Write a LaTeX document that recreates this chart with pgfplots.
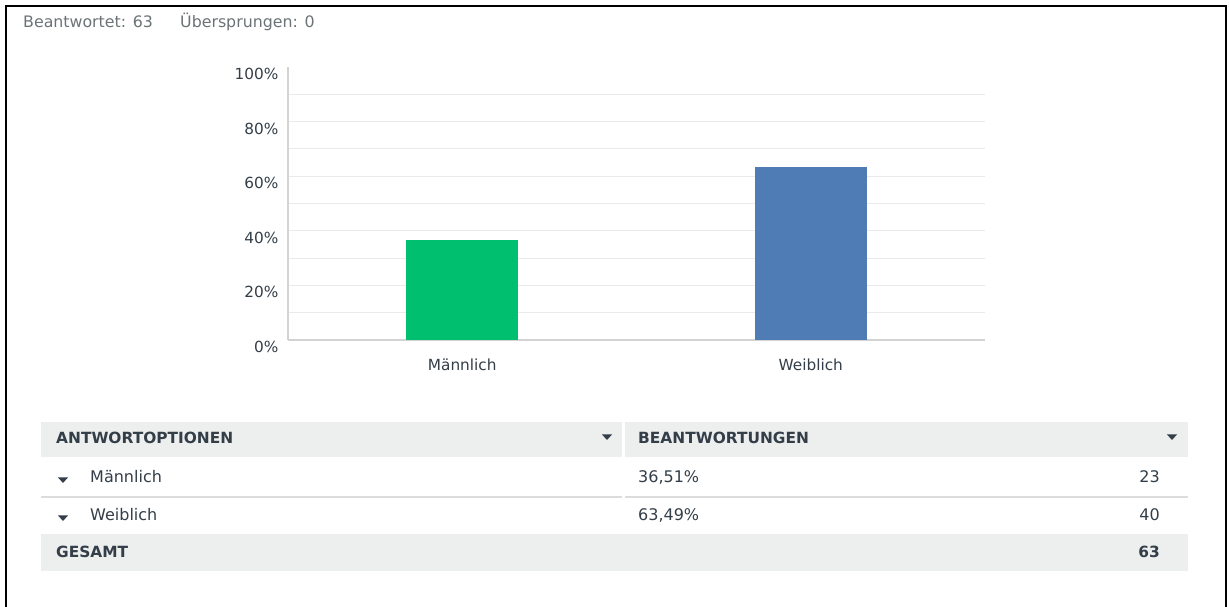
\documentclass[border=0pt]{standalone}
\usepackage{fontspec}
\setmainfont{DejaVu Sans}
\usepackage{pgfplots}
\pgfplotsset{compat=1.18}
\definecolor{mgreen}{HTML}{00BF6F}
\definecolor{mblue}{HTML}{507CB6}
\definecolor{txt}{HTML}{333E48}
\definecolor{hdr}{HTML}{6B7377}
\definecolor{band}{HTML}{EDEEEE}
\definecolor{gridc}{HTML}{EAEAEA}
\definecolor{axc}{HTML}{D3D3D3}
\definecolor{sepc}{HTML}{DCDCDC}
\newcommand\hf{\fontsize{15.8}{18}\selectfont}
\newcommand\kf{\fontsize{15.3}{18}\selectfont}
\newcommand\tf{\fontsize{16}{19}\selectfont}
\newcommand\bff{\fontsize{15.4}{18}\selectfont\bfseries}
\begin{document}
\begin{tikzpicture}
\begin{scope}[x=1pt,y=1pt]
\path[use as bounding box] (0,0) rectangle (1229,607);
\draw[line width=2.5pt] (6,0) -- (6,601) -- (1226,601) -- (1226,0);
\node[anchor=base west, inner sep=0, text=hdr, font=\hf] at (23,579) {Beantwortet: 63};
\node[anchor=base west, inner sep=0, text=hdr, font=\hf] at (180,579) {Übersprungen: 0};
\end{scope}

\begin{axis}[at={(288pt,267pt)}, anchor=south west,
  scale only axis, width=697pt, height=273pt,
  xmin=-0.5, xmax=1.5, ymin=0, ymax=100,
  axis lines*=left,
  axis line style={-, axc, line width=1.5pt},
  ytick={0,10,...,90},
  yticklabels={0\%,,20\%,,40\%,,60\%,,80\%,},
  extra y ticks={100}, extra y tick labels={100\%},
  extra y tick style={grid=none},
  ymajorgrids, grid style={gridc, line width=1pt},
  major tick length=0pt,
  yticklabel style={font=\kf, text=txt, anchor=east, xshift=-6pt, yshift=-7pt},
  xtick={0,1}, xticklabels={Männlich,Weiblich},
  xticklabel style={font=\kf, text=txt, yshift=-15pt},
  clip=false]
\addplot[ybar, bar width=112pt, fill=mgreen, draw=none] coordinates {(0,36.51)};
\addplot[ybar, bar width=112pt, fill=mblue, draw=none] coordinates {(1,63.49)};
\end{axis}

\begin{scope}[x=1pt,y=1pt]
\fill[band] (41,185) rectangle (1188,149.5);
\fill[white] (622,185) rectangle (624.5,149.5);
\draw[sepc, line width=1.5pt] (41,110) -- (1188,110);
\draw[white, line width=1.6pt] (622,110) -- (624.5,110);
\fill[band] (41,73) rectangle (1188,36);
\foreach \px/\py in {607/170, 1172/170, 63/127, 63/89}
  \fill[txt] (\px-5,\py+2.5) -- (\px+5,\py+2.5) -- (\px,\py-3) -- cycle;
\node[anchor=base west, inner sep=0, text=txt, font=\bff] at (56,163) {ANTWORTOPTIONEN};
\node[anchor=base west, inner sep=0, text=txt, font=\bff] at (638,163) {BEANTWORTUNGEN};
\node[anchor=base west, inner sep=0, text=txt, font=\tf] at (90,124) {Männlich};
\node[anchor=base west, inner sep=0, text=txt, font=\tf] at (90,86) {Weiblich};
\node[anchor=base west, inner sep=0, text=txt, font=\tf] at (638,124) {36,51\%};
\node[anchor=base west, inner sep=0, text=txt, font=\tf] at (638,86) {63,49\%};
\node[anchor=base east, inner sep=0, text=txt, font=\tf] at (1160,124) {23};
\node[anchor=base east, inner sep=0, text=txt, font=\tf] at (1160,86) {40};
\node[anchor=base west, inner sep=0, text=txt, font=\bff] at (56,49) {GESAMT};
\node[anchor=base east, inner sep=0, text=txt, font=\bff] at (1160,49) {63};
\end{scope}
\end{tikzpicture}
\end{document}
